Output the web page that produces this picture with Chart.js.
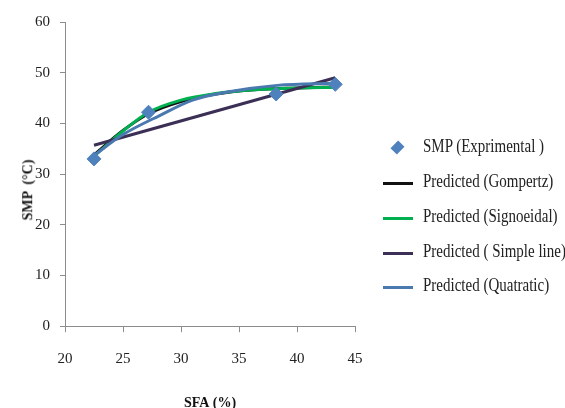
<!DOCTYPE html>
<html>
<head>
<meta charset="utf-8">
<script src="https://cdn.jsdelivr.net/npm/chart.js@4/dist/chart.umd.min.js"></script>
<style>
  html, body { margin: 0; padding: 0; background: #fff; }
  #wrap { position: relative; width: 565px; height: 408px; overflow: hidden; }
  #chart { position: absolute; left: 0; top: 0; }
  .legend { position: absolute; left: 380px; top: 0; font-family: "Liberation Serif", serif; font-size: 15px; color: #222; }
  .item { position: absolute; left: 0; white-space: nowrap; height: 20px; }
  .mark { position: absolute; left: 3px; top: 9px; width: 30px; height: 3px; }
  .diamond { position: absolute; left: 13px; top: 5px; width: 9px; height: 9px; background: #4F81BD; transform: rotate(45deg) scaleY(1.2); }
  .txt { position: absolute; left: 43px; top: 0; display: inline-block; transform: scaleY(1.2); transform-origin: left center; }
  #ytitle { position: absolute; left: 28px; top: 190px; transform: translate(-50%, -50%) rotate(-90deg) scaleY(1.1);
    font-family: "Liberation Serif", serif; font-size: 14px; font-weight: bold; color: #111; white-space: pre; }
</style>
</head>
<body>
<div id="wrap">
  <canvas id="chart" width="565" height="408"></canvas>
  <div id="ytitle">SMP  (°C)</div>
  <div class="legend" id="legend"></div>
</div>
<script>
// --------------------------
// data
// --------------------------
const xTicks = [20, 25, 30, 35, 40, 45];
const yTicks = [0, 10, 20, 30, 40, 50, 60];

// experimental points
const smpX = [22.5, 27.2, 38.2, 43.3];
const smpY = [33.0, 42.2, 45.8, 47.7];

// predicted curves
const gompX = [22.5, 25.0, 27.2, 30.0, 33.0, 36.0, 40.0, 43.3];
const gompY = [33.8, 38.6, 41.9, 44.3, 45.8, 46.6, 47.0, 47.2];

const sigX = [22.5, 25.0, 27.2, 30.0, 33.0, 36.0, 40.0, 43.3];
const sigY = [33.5, 38.5, 42.2, 44.6, 45.9, 46.6, 47.0, 47.1];

const lineX = [22.5, 43.3];
const lineY = [35.7, 49.0];

const quadX = [22.5, 25.0, 28.2, 31.0, 34.0, 38.3, 43.3];
const quadY = [33.7, 37.8, 41.6, 44.6, 46.2, 47.5, 47.9];

const legendLabels = [
  "SMP (Exprimental )",
  "Predicted (Gompertz)",
  "Predicted (Signoeidal)",
  "Predicted ( Simple line)",
  "Predicted (Quatratic)"
];
const colors = ["#4F81BD", "#111111", "#00B050", "#3B2F55", "#4A79B0"];

function pts(xs, ys) {
  return xs.map((x, i) => ({ x, y: ys[i] }));
}

function curve(label, xs, ys, color, order) {
  return {
    label,
    data: pts(xs, ys),
    showLine: true,
    borderColor: color,
    backgroundColor: color,
    borderWidth: 3,
    pointRadius: 0,
    tension: 0.4,
    cubicInterpolationMode: "monotone",
    order
  };
}

const font = { family: "'Liberation Serif', serif", size: 15 };

new Chart(document.getElementById("chart").getContext("2d"), {
  type: "scatter",
  data: {
    datasets: [
      {
        label: legendLabels[0],
        data: pts(smpX, smpY),
        pointStyle: "rectRot",
        pointRadius: 7,
        pointBackgroundColor: colors[0],
        pointBorderColor: colors[0],
        order: 0
      },
      curve(legendLabels[1], gompX, gompY, colors[1], 4),
      curve(legendLabels[2], sigX, sigY, colors[2], 3),
      curve(legendLabels[3], lineX, lineY, colors[3], 2),
      curve(legendLabels[4], quadX, quadY, colors[4], 1)
    ]
  },
  options: {
    responsive: false,
    animation: false,
    layout: { padding: { left: 25, right: 210, top: 22, bottom: -4 } },
    plugins: { legend: { display: false }, tooltip: { enabled: false } },
    scales: {
      x: {
        type: "linear",
        min: 20,
        max: 45,
        afterBuildTicks: axis => { axis.ticks = xTicks.map(v => ({ value: v })); },
        grid: { drawOnChartArea: false, drawTicks: true, tickLength: 6, color: "#8c8c8c" },
        border: { color: "#8c8c8c", width: 1 },
        ticks: { font, color: "#222", padding: 18, maxRotation: 0 },
        title: { display: true, text: "SFA (%)", font: { family: "'Liberation Serif', serif", size: 14, weight: "bold" }, color: "#111", padding: { top: 9, bottom: 0 } }
      },
      y: {
        type: "linear",
        min: 0,
        max: 60,
        afterBuildTicks: axis => { axis.ticks = yTicks.map(v => ({ value: v })); },
        grid: { drawOnChartArea: false, drawTicks: true, tickLength: 5, color: "#8c8c8c" },
        border: { color: "#8c8c8c", width: 1 },
        ticks: { font, color: "#222", padding: 10 }
      }
    }
  }
});

// --------------------------
// legend (html)
// --------------------------
const legendTops = [138, 173, 208, 243, 277];
const legendEl = document.getElementById("legend");
legendLabels.forEach((txt, i) => {
  const item = document.createElement("div");
  item.className = "item";
  item.style.top = legendTops[i] + "px";
  const mark = document.createElement("div");
  if (i === 0) {
    mark.className = "diamond";
  } else {
    mark.className = "mark";
    mark.style.background = colors[i];
  }
  const span = document.createElement("span");
  span.className = "txt";
  span.textContent = txt;
  item.appendChild(mark);
  item.appendChild(span);
  legendEl.appendChild(item);
});
</script>
</body>
</html>
